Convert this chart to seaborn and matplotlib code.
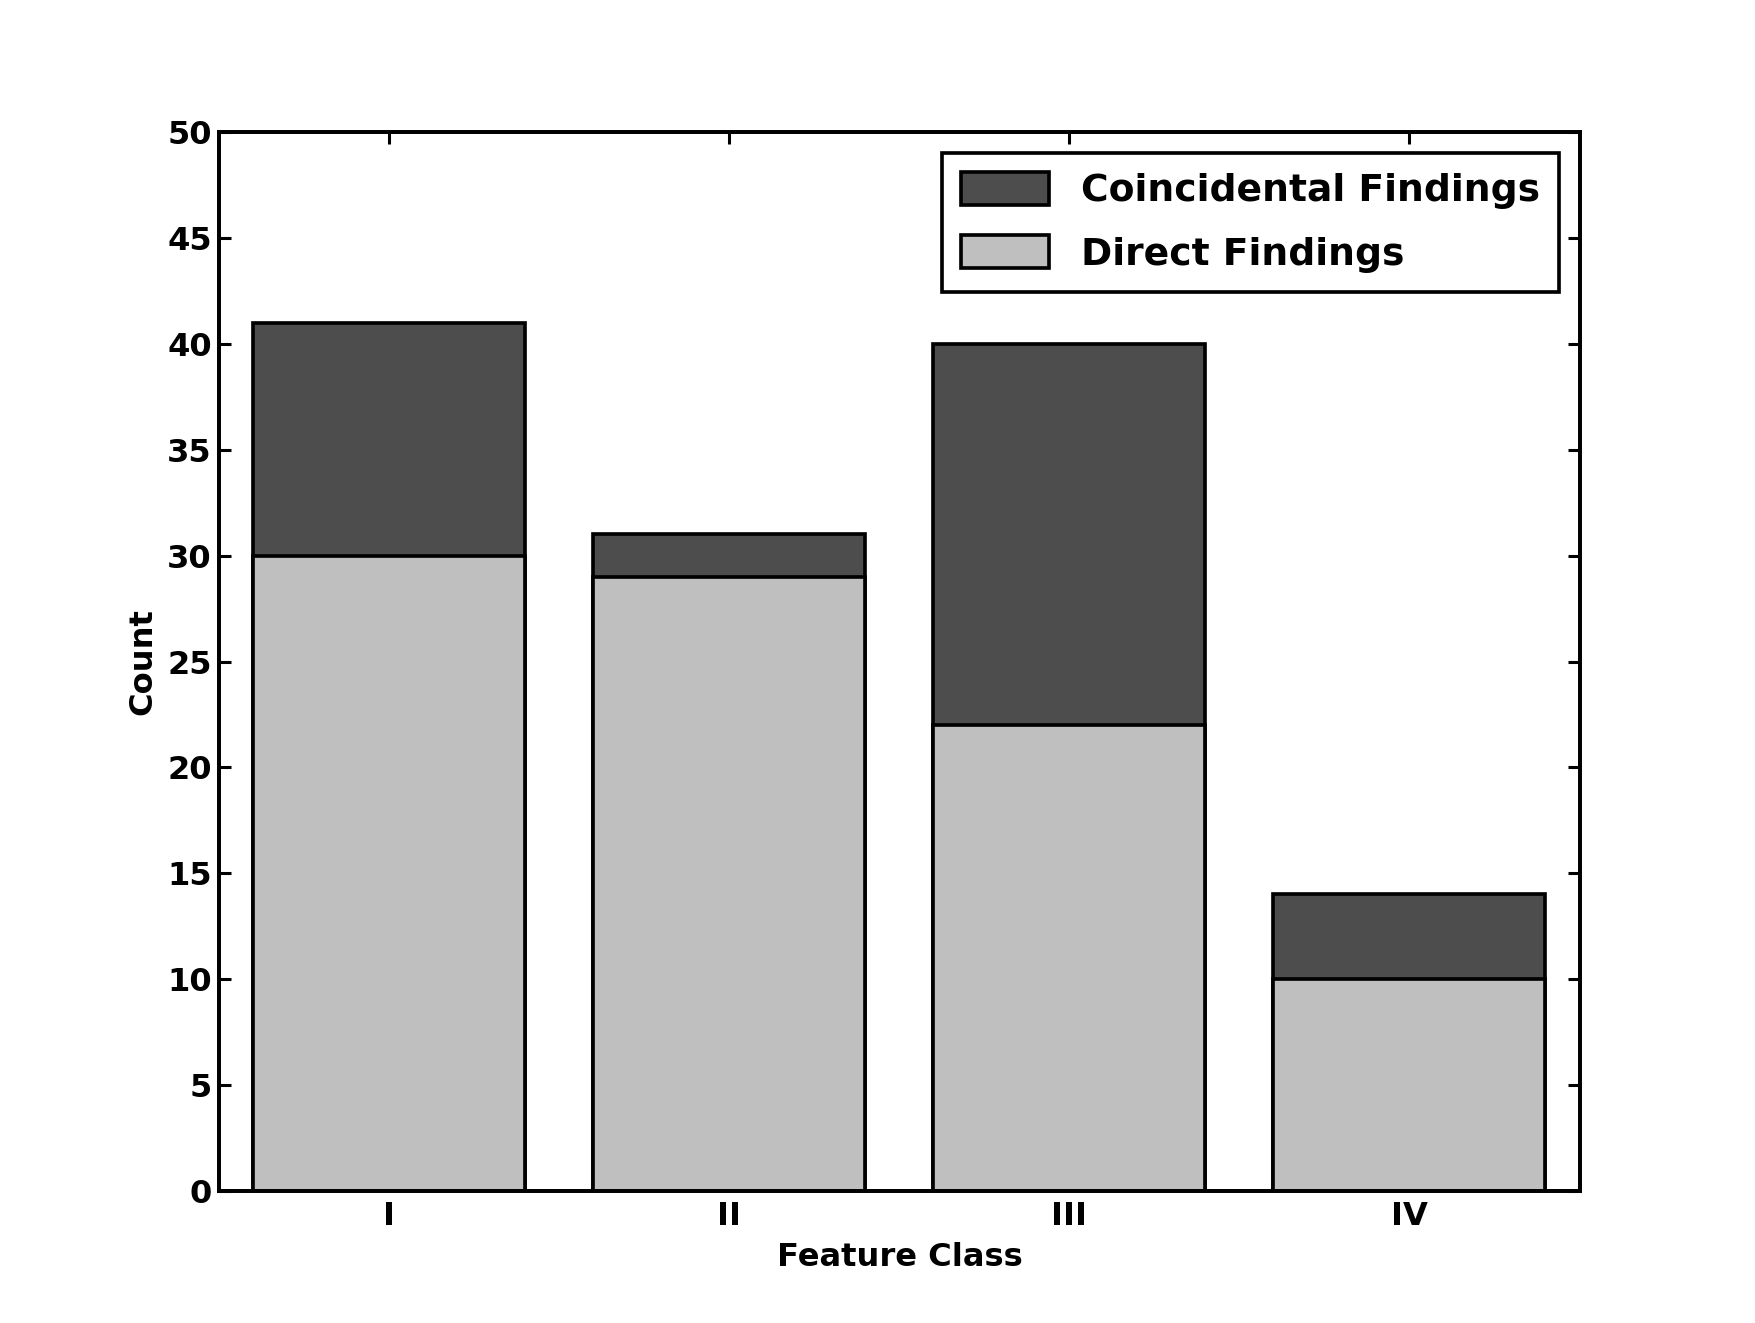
import numpy as np
import pandas as pd
import matplotlib
matplotlib.use("Agg")
import matplotlib.pyplot as plt
import seaborn as sns

# データ
classes = ["I", "II", "III", "IV"]
direct = [30, 29, 22, 10]
coincidental = [11, 2, 18, 4]
total = [d + c for d, c in zip(direct, coincidental)]

sns.set_style("ticks")
plt.rcParams["font.family"] = ["DejaVu Sans"]
plt.rcParams["font.weight"] = "bold"
plt.rcParams["text.color"] = "black"
plt.rcParams["axes.labelcolor"] = "black"

fig, ax = plt.subplots(figsize=(1755 / 220, 1323 / 220), dpi=220)
fig.subplots_adjust(left=0.125, right=0.9, bottom=0.1, top=0.9)

df = pd.DataFrame({"cls": classes, "direct": direct, "total": total})

# 積み上げ: 合計を先に描いて、その上にDirectを重ねる
sns.barplot(data=df, x="cls", y="total", color="#4d4d4d", saturation=1,
            edgecolor="black", linewidth=1.2, width=0.8, ax=ax,
            label="Coincidental Findings")
sns.barplot(data=df, x="cls", y="direct", color="#bfbfbf", saturation=1,
            edgecolor="black", linewidth=1.2, width=0.8, ax=ax,
            label="Direct Findings")

ax.set_xlim(-0.5, 3.5)
ax.set_ylim(0, 50)
ax.set_yticks(np.arange(0, 51, 5))
ax.set_xlabel("Feature Class", fontsize=10.5, fontweight="bold", labelpad=3)
ax.set_ylabel("Count", fontsize=10.5, fontweight="bold", labelpad=3)
ax.tick_params(direction="in", length=4, width=1, colors="black",
               top=True, right=True, labelsize=10.5)
ax.tick_params(axis="y", pad=2.5)
ax.tick_params(axis="x", pad=3.5)
for s in ax.spines.values():
    s.set_visible(True)
    s.set_linewidth(1.3)
    s.set_color("black")

leg = ax.legend(loc="upper right", borderaxespad=0.55, fontsize=12.3,
                fancybox=False, edgecolor="black", framealpha=1,
                handlelength=2.35, handleheight=0.97, handletextpad=0.85,
                borderpad=0.5, labelspacing=0.7)
leg.get_frame().set_linewidth(1.2)

plt.savefig("out.png", dpi=220)
